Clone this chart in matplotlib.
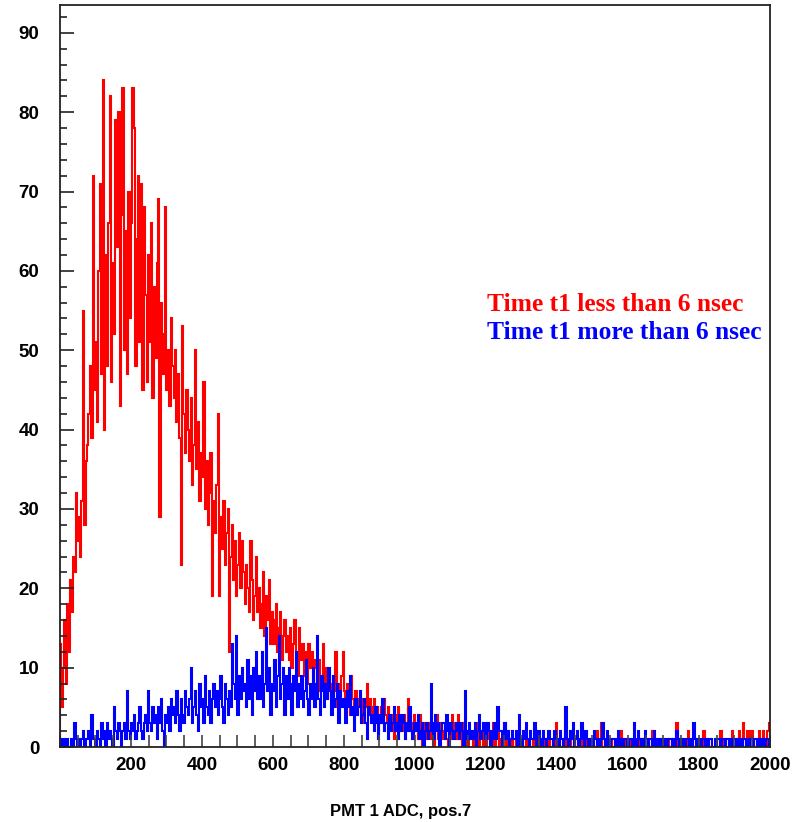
import matplotlib
matplotlib.use("Agg")
import matplotlib.pyplot as plt
from matplotlib.ticker import MultipleLocator, FixedLocator
import numpy as np

# ADC histogram, 4 channels per bin, 0..2000
bin_width = 4
adc_max = 2000

# counts per bin, t1 < 6 nsec (one row = 40 ADC channels)
red_counts = [
    13, 5, 10, 16, 8, 18, 12, 21, 17, 24,
    22, 32, 26, 29, 24, 31, 55, 28, 36, 38,
    42, 48, 39, 72, 45, 51, 41, 60, 71, 47,
    84, 40, 62, 48, 66, 82, 46, 61, 52, 79,
    63, 80, 43, 67, 83, 50, 65, 47, 70, 54,
    66, 83, 78, 48, 64, 72, 51, 71, 45, 68,
    57, 46, 62, 51, 66, 44, 58, 49, 61, 69,
    29, 56, 47, 52, 68, 45, 50, 43, 54, 48,
    44, 50, 41, 47, 39, 23, 53, 42, 37, 45,
    40, 36, 44, 33, 38, 50, 35, 41, 31, 37,
    34, 46, 30, 36, 28, 32, 37, 19, 31, 27,
    33, 42, 19, 29, 25, 31, 23, 27, 30, 12,
    24, 28, 21, 26, 19, 23, 27, 20, 26, 22,
    18, 23, 20, 17, 26, 21, 16, 19, 24, 17,
    20, 15, 18, 22, 14, 19, 16, 21, 13, 17,
    16, 13, 18, 12, 15, 17, 11, 14, 16, 12,
    14, 11, 15, 10, 13, 16, 12, 9, 15, 13,
    11, 13, 9, 12, 8, 13, 10, 12, 7, 11,
    10, 8, 11, 7, 9, 13, 8, 10, 6, 9,
    8, 6, 9, 7, 12, 5, 8, 7, 9, 12,
    7, 5, 8, 6, 4, 9, 6, 5, 7, 6,
    5, 7, 4, 6, 3, 5, 8, 4, 6, 5,
    4, 6, 3, 5, 2, 4, 5, 3, 6, 4,
    3, 5, 2, 4, 3, 1, 4, 3, 5, 2,
    3, 2, 4, 1, 3, 6, 2, 3, 1, 4,
    2, 3, 1, 4, 2, 0, 3, 2, 1, 3,
    2, 1, 3, 0, 2, 4, 1, 2, 3, 1,
    2, 3, 1, 0, 2, 1, 4, 2, 3, 1,
    4, 1, 2, 0, 3, 1, 2, 0, 1, 2,
    1, 0, 2, 1, 3, 0, 1, 2, 0, 1,
    0, 2, 1, 0, 1, 3, 0, 1, 2, 0,
    1, 0, 1, 3, 0, 2, 1, 0, 1, 0,
    0, 1, 0, 2, 0, 1, 0, 0, 1, 0,
    1, 0, 0, 1, 0, 2, 0, 1, 0, 0,
    0, 1, 0, 0, 1, 0, 0, 1, 0, 3,
    0, 1, 0, 0, 1, 0, 2, 0, 0, 1,
    0, 0, 1, 0, 0, 0, 0, 1, 0, 0,
    1, 0, 0, 1, 0, 0, 0, 0, 2, 0,
    0, 3, 0, 0, 1, 0, 0, 0, 1, 0,
    0, 1, 0, 0, 0, 2, 0, 1, 0, 0,
    0, 0, 1, 0, 0, 0, 0, 0, 1, 0,
    1, 0, 0, 0, 1, 0, 0, 2, 0, 0,
    0, 0, 0, 1, 0, 0, 0, 0, 1, 0,
    0, 1, 0, 0, 3, 0, 1, 0, 0, 0,
    0, 0, 2, 0, 0, 1, 0, 0, 1, 0,
    1, 0, 0, 2, 0, 0, 1, 0, 0, 0,
    0, 0, 1, 0, 0, 2, 0, 1, 0, 0,
    0, 1, 0, 2, 0, 0, 1, 0, 2, 1,
    0, 3, 1, 0, 2, 0, 1, 2, 0, 1,
    1, 0, 2, 1, 0, 2, 1, 0, 2, 3,
]

# counts per bin, t1 > 6 nsec
blue_counts = [
    1, 0, 1, 0, 1, 1, 0, 0, 1, 0,
    3, 1, 0, 1, 0, 1, 2, 0, 1, 1,
    2, 0, 4, 1, 1, 0, 2, 1, 0, 3,
    1, 2, 0, 3, 1, 2, 1, 0, 5, 2,
    1, 3, 2, 0, 2, 3, 1, 7, 2, 1,
    3, 2, 4, 1, 2, 3, 5, 2, 1, 3,
    4, 2, 7, 3, 2, 5, 3, 4, 1, 5,
    3, 6, 2, 0, 4, 3, 5, 2, 6, 4,
    5, 3, 7, 4, 2, 6, 4, 3, 7, 5,
    4, 6, 10, 3, 5, 7, 4, 2, 8, 5,
    6, 3, 9, 5, 4, 7, 3, 6, 8, 5,
    7, 4, 6, 9, 5, 3, 8, 6, 4, 7,
    5, 13, 8, 6, 14, 4, 9, 6, 10, 7,
    8, 5, 11, 6, 9, 4, 10, 7, 12, 6,
    9, 6, 12, 5, 8, 15, 7, 10, 4, 8,
    7, 11, 5, 9, 14, 6, 8, 10, 4, 9,
    6, 10, 8, 4, 9, 7, 12, 5, 8, 6,
    9, 5, 7, 11, 6, 4, 8, 6, 10, 5,
    8, 14, 6, 4, 9, 7, 5, 8, 6, 10,
    7, 4, 9, 5, 6, 8, 3, 7, 5, 6,
    6, 3, 7, 5, 9, 4, 5, 2, 6, 4,
    5, 7, 3, 4, 6, 3, 1, 5, 4, 3,
    4, 2, 5, 3, 1, 4, 3, 6, 2, 3,
    3, 1, 4, 2, 3, 5, 2, 3, 1, 4,
    2, 4, 3, 1, 3, 2, 5, 2, 1, 3,
    3, 2, 4, 1, 2, 3, 0, 2, 3, 1,
    2, 8, 3, 1, 4, 2, 3, 0, 2, 3,
    3, 1, 4, 2, 0, 3, 2, 1, 2, 3,
    2, 1, 3, 2, 0, 7, 2, 1, 3, 1,
    2, 1, 3, 0, 2, 4, 1, 2, 3, 1,
    1, 3, 2, 0, 2, 1, 3, 1, 5, 2,
    2, 0, 1, 3, 1, 2, 0, 1, 2, 1,
    1, 2, 0, 4, 1, 0, 2, 1, 3, 1,
    0, 2, 1, 1, 3, 0, 1, 2, 1, 0,
    2, 1, 0, 1, 2, 1, 1, 0, 2, 1,
    1, 0, 2, 1, 0, 1, 5, 1, 0, 2,
    1, 3, 0, 1, 2, 0, 1, 3, 1, 0,
    2, 1, 0, 1, 1, 0, 2, 1, 0, 1,
    0, 1, 3, 1, 0, 2, 1, 0, 1, 1,
    1, 0, 1, 2, 0, 1, 0, 1, 1, 0,
    0, 1, 1, 0, 3, 1, 0, 2, 1, 0,
    1, 0, 2, 1, 0, 1, 1, 0, 2, 1,
    0, 1, 0, 1, 1, 0, 1, 0, 1, 1,
    1, 0, 1, 0, 2, 1, 0, 1, 0, 1,
    0, 1, 1, 0, 1, 0, 3, 1, 0, 1,
    1, 0, 1, 1, 0, 1, 0, 1, 1, 0,
    0, 1, 0, 1, 1, 0, 1, 1, 0, 1,
    1, 0, 1, 0, 1, 1, 0, 1, 0, 1,
    0, 1, 1, 0, 1, 0, 1, 1, 0, 1,
    1, 0, 1, 1, 0, 1, 0, 1, 1, 0,
]

red_label = "Time t1 less than 6 nsec"
blue_label = "Time t1 more than 6 nsec"
x_title = "PMT 1 ADC, pos.7"
x_ticks = [200, 400, 600, 800, 1000, 1200, 1400, 1600, 1800, 2000]
y_ticks = [0, 10, 20, 30, 40, 50, 60, 70, 80, 90]

edges = np.arange(0, adc_max + bin_width, bin_width)

fig = plt.figure(figsize=(8.07, 8.22), dpi=100)
ax = fig.add_axes([0.0743, 0.0912, 0.8798, 0.9027])

# thick steps so the narrow bins merge into a dense band
ax.stairs(red_counts, edges, color="#ff0000", linewidth=1.5)
ax.stairs(blue_counts, edges, color="#0000ff", linewidth=1.5)

ax.set_xlim(0, adc_max)
ax.set_ylim(0, 93.5)

ax.xaxis.set_major_locator(FixedLocator(x_ticks))
ax.xaxis.set_minor_locator(MultipleLocator(50))
ax.yaxis.set_major_locator(FixedLocator(y_ticks))
ax.yaxis.set_minor_locator(MultipleLocator(2))

ax.tick_params(axis="x", which="both", direction="in", length=9,
               width=1.2, color="#444444", pad=7)
ax.tick_params(axis="y", which="major", direction="in", length=10,
               width=1.2, color="#222222", pad=15)
ax.tick_params(axis="y", which="minor", direction="in", length=5,
               width=1.2, color="#222222")

for lab in ax.get_xticklabels() + ax.get_yticklabels():
    lab.set_fontfamily("Liberation Sans")
    lab.set_fontweight("bold")
    lab.set_fontsize(13.5)

for side in ["left", "bottom", "top", "right"]:
    ax.spines[side].set_linewidth(1.3)
    ax.spines[side].set_color("#222222")

fig.text(401 / 807, 1 - 816 / 822, x_title, ha="center", va="baseline",
         fontfamily="Liberation Sans", fontweight="bold", fontsize=12)

fig.text(487 / 807, 1 - 311 / 822, red_label, color="#ff0000",
         ha="left", va="baseline", fontfamily="Liberation Serif",
         fontweight="bold", fontsize=18.4)
fig.text(487 / 807, 1 - 339 / 822, blue_label, color="#0000ff",
         ha="left", va="baseline", fontfamily="Liberation Serif",
         fontweight="bold", fontsize=18.4)

fig.savefig("out.png", dpi=100)
